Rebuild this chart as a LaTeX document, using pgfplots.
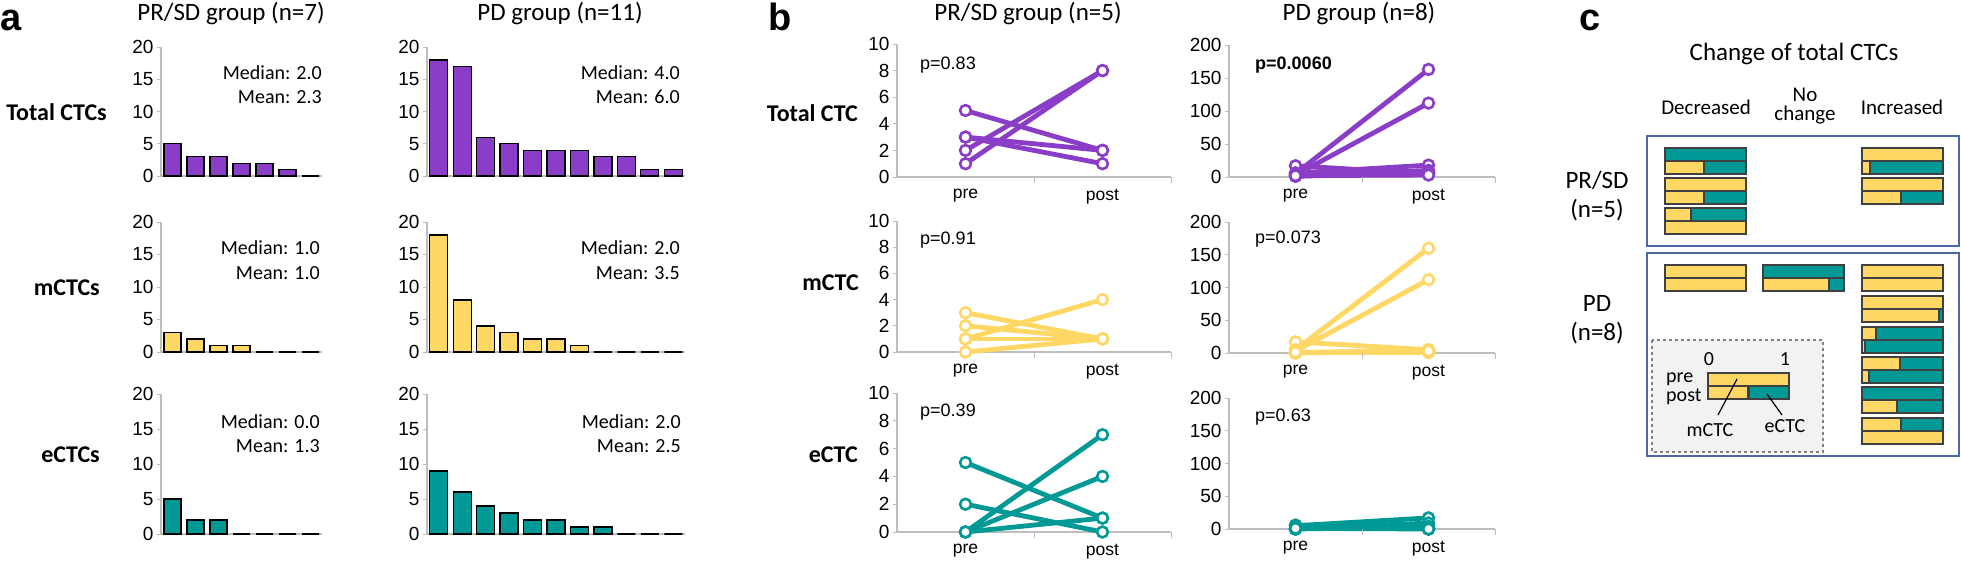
\documentclass[border=0pt]{standalone}
\usepackage{pgfplots}
\usepackage{pgfplotstable}
\pgfplotsset{compat=1.18}
\usepackage{fontspec}
\setmainfont{Carlito}
\newfontfamily\arial{Liberation Sans}
\definecolor{purp}{RGB}{138,62,200}
\definecolor{yell}{RGB}{255,215,100}
\definecolor{tealc}{RGB}{0,153,150}
\definecolor{axg}{RGB}{190,190,190}
\definecolor{bord}{RGB}{64,64,64}
\definecolor{boxblue}{RGB}{75,105,165}
\newcommand\ftitle{\fontsize{25}{30}\selectfont}
\newcommand\frow{\bfseries\fontsize{24}{28}\selectfont}
\newcommand\fmed{\fontsize{20}{24}\selectfont}
\newcommand\fhead{\fontsize{21}{22}\selectfont}
\newcommand\fleg{\fontsize{20}{22}\selectfont}
\newcommand\fp{\arial\fontsize{18}{20}\selectfont}
\newcommand\fletter{\arial\bfseries\fontsize{38}{40}\selectfont}
\pgfplotsset{
 common/.style={scale only axis, anchor=south west, clip=false,
   axis x line*=bottom, axis y line*=left,
   axis line style={draw=axg, line width=1.3pt},
   tick align=outside, major tick length=4pt,
   tick style={draw=axg, line width=1pt},
   tick label style={font=\arial\fontsize{19}{19}\selectfont, text=black},
   /pgf/number format/assume math mode=true,
   ymin=0},
 abar/.style={common, ybar, xtick=\empty, ymax=20, ytick={0,5,10,15,20}, xmin=0.5},
 bl/.style={common, xmin=0.5, xmax=2.5, xtick={1,2}, xticklabels={pre,post},
   xtick style={draw=none},
   xticklabel style={font=\arial\fontsize{17.5}{18}\selectfont, yshift=-5pt}},
 barst/.style={draw=black, line width=1.2pt},
}
\newcommand\seg[3]{\addplot[draw=#1, line width=4.8pt, line cap=round] coordinates {(1,#2)(2,#3)};}
\newcommand\xt{\draw[axg, line width=1pt] (axis cs:1.5,0) -- ++(0pt,-6pt); \draw[axg, line width=1pt] (axis cs:2.5,0) -- ++(0pt,-6pt);}
\pgfplotsset{mk/.style={only marks, mark=*, mark size=5.4pt, mark options={fill=white, draw=#1, line width=2.6pt}}}
\pgfplotstableread{
y off m e
154.5 1665 0 81
167.5 1665 39 42
184.5 1665 81 0
197.5 1665 39 42
214.5 1665 26 55
227.5 1665 81 0
154.51 1862 81 0
167.51 1862 8 73
184.51 1862 81 0
197.51 1862 39 42
271.5 1665 81 0
284.5 1665 81 0
271.52 1763 0 81
284.52 1763 66 15
271.51 1862 81 0
284.51 1862 81 0
302.5 1862 81 0
315.5 1862 77 4
333.5 1862 14 67
346.5 1862 3 78
363.5 1862 38 43
376.5 1862 7 74
393.5 1862 0 81
406.5 1862 35 46
424.5 1862 39 42
437.5 1862 81 0
379.5 1708 81 0
392.5 1708 40.5 40.5
}\ctab
\begin{document}
\begin{tikzpicture}
\useasboundingbox (0pt,0pt) rectangle (1961pt,-560pt);
\begin{scope}[x=1pt,y=-1pt]
% panel letters
\node[anchor=base west, inner sep=0, font=\fletter] at (0,30) {a};
\node[anchor=base west, inner sep=0, font=\fletter] at (768,30) {b};
\node[anchor=base west, inner sep=0, font=\fletter] at (1579,30) {c};
% panel a titles
\node[inner sep=0, font=\ftitle] at (231,14) {PR/SD group (n=7)};
\node[inner sep=0, font=\ftitle] at (560,14) {PD group (n=11)};
\node[anchor=east, inner sep=0, font=\frow] at (107,112) {Total CTCs};
\node[anchor=east, inner sep=0, font=\frow] at (100,288) {mCTCs};
\node[anchor=east, inner sep=0, font=\frow] at (100,455) {eCTCs};
% median/mean
\node[anchor=east, inner sep=0, font=\fmed] at (322,73) {Median: 2.0};
\node[anchor=east, inner sep=0, font=\fmed] at (322,97) {Mean: 2.3};
\node[anchor=east, inner sep=0, font=\fmed] at (680,73) {Median: 4.0};
\node[anchor=east, inner sep=0, font=\fmed] at (680,97) {Mean: 6.0};
\node[anchor=east, inner sep=0, font=\fmed] at (320,248) {Median: 1.0};
\node[anchor=east, inner sep=0, font=\fmed] at (320,273) {Mean: 1.0};
\node[anchor=east, inner sep=0, font=\fmed] at (680,248) {Median: 2.0};
\node[anchor=east, inner sep=0, font=\fmed] at (680,273) {Mean: 3.5};
\node[anchor=east, inner sep=0, font=\fmed] at (320,422) {Median: 0.0};
\node[anchor=east, inner sep=0, font=\fmed] at (320,446) {Mean: 1.3};
\node[anchor=east, inner sep=0, font=\fmed] at (681,422) {Median: 2.0};
\node[anchor=east, inner sep=0, font=\fmed] at (681,446) {Mean: 2.5};
% panel b titles
\node[inner sep=0, font=\ftitle] at (1028,14) {PR/SD group (n=5)};
\node[inner sep=0, font=\ftitle] at (1359,14) {PD group (n=8)};
\node[anchor=east, inner sep=0, font=\frow] at (858,113) {Total CTC};
\node[anchor=east, inner sep=0, font=\frow] at (859,283) {mCTC};
\node[anchor=east, inner sep=0, font=\frow] at (858,455) {eCTC};
\node[anchor=west, inner sep=0, font=\fp] at (920,65) {p=0.83};
\node[anchor=west, inner sep=0, font=\fp] at (920,240) {p=0.91};
\node[anchor=west, inner sep=0, font=\fp] at (920,412) {p=0.39};
\node[anchor=west, inner sep=0, font=\fp\bfseries] at (1255,65) {p=0.0060};
\node[anchor=west, inner sep=0, font=\fp] at (1255,239) {p=0.073};
\node[anchor=west, inner sep=0, font=\fp] at (1255,417) {p=0.63};
% panel c texts and boxes
\node[inner sep=0, font=\ftitle] at (1794,54) {Change of total CTCs};
\node[inner sep=0, font=\fhead] at (1706,107) {Decreased};
\node[inner sep=0, font=\fhead] at (1805,95) {No};
\node[inner sep=0, font=\fhead] at (1805,115) {change};
\node[inner sep=0, font=\fhead] at (1902,107) {Increased};
\node[inner sep=0, font=\ftitle] at (1597,180) {PR/SD};
\node[inner sep=0, font=\ftitle] at (1597,210) {(n=5)};
\node[inner sep=0, font=\ftitle] at (1597,303) {PD};
\node[inner sep=0, font=\ftitle] at (1597,333) {(n=8)};
\draw[boxblue, line width=1.5pt] (1647,136) rectangle (1959,246);
\draw[boxblue, line width=1.5pt] (1647,253) rectangle (1959,456);
\draw[draw=gray, fill=black!5, dashed, line width=1.3pt] (1652,340) rectangle (1823,452);
\node[inner sep=0, font=\fleg] at (1709,359) {0};
\node[inner sep=0, font=\fleg] at (1785,359) {1};
\node[anchor=west, inner sep=0, font=\fleg] at (1666,379) {pre};
\node[anchor=west, inner sep=0, font=\fleg] at (1666,397) {post};
\node[inner sep=0, font=\fleg] at (1710,430) {mCTC};
\node[inner sep=0, font=\fleg] at (1785,426) {eCTC};
\end{scope}

% ===== panel a =====
\begin{axis}[abar, at={(161pt,-176pt)}, width=161pt, height=129pt, xmax=7.5, bar width=17pt]
\addplot[barst, fill=purp] coordinates {(1,5)(2,3)(3,3)(4,2)(5,2)(6,1)(7,0)};
\end{axis}
\begin{axis}[abar, at={(427pt,-176pt)}, width=258pt, height=129pt, xmax=11.5, bar width=18pt]
\addplot[barst, fill=purp] coordinates {(1,18)(2,17)(3,6)(4,5)(5,4)(6,4)(7,4)(8,3)(9,3)(10,1)(11,1)};
\end{axis}
\begin{axis}[abar, at={(161pt,-352pt)}, width=161pt, height=130pt, xmax=7.5, bar width=17pt]
\addplot[barst, fill=yell] coordinates {(1,3)(2,2)(3,1)(4,1)(5,0)(6,0)(7,0)};
\end{axis}
\begin{axis}[abar, at={(427pt,-352pt)}, width=258pt, height=130pt, xmax=11.5, bar width=18pt]
\addplot[barst, fill=yell] coordinates {(1,18)(2,8)(3,4)(4,3)(5,2)(6,2)(7,1)(8,0)(9,0)(10,0)(11,0)};
\end{axis}
\begin{axis}[abar, at={(161pt,-534pt)}, width=161pt, height=140pt, xmax=7.5, bar width=17pt]
\addplot[barst, fill=tealc] coordinates {(1,5)(2,2)(3,2)(4,0)(5,0)(6,0)(7,0)};
\end{axis}
\begin{axis}[abar, at={(427pt,-534pt)}, width=258pt, height=140pt, xmax=11.5, bar width=18pt]
\addplot[barst, fill=tealc] coordinates {(1,9)(2,6)(3,4)(4,3)(5,2)(6,2)(7,1)(8,1)(9,0)(10,0)(11,0)};
\end{axis}

% ===== panel b =====
\begin{axis}[bl, at={(897pt,-177pt)}, width=274pt, height=133pt, ymax=10, ytick={0,2,4,6,8,10}]
\seg{purp}{5}{2}\seg{purp}{3}{2}\seg{purp}{3}{1}\seg{purp}{2}{8}\seg{purp}{1}{8}
\addplot[mk=purp] coordinates {(1,5)(1,3)(1,3)(1,2)(1,1)(2,2)(2,2)(2,1)(2,8)(2,8)};
\xt
\end{axis}
\begin{axis}[bl, at={(1229pt,-177pt)}, width=266pt, height=132pt, ymax=200, ytick={0,50,100,150,200}]
\seg{purp}{17}{5}\seg{purp}{6}{6}\seg{purp}{3}{112}\seg{purp}{5}{163}\seg{purp}{6}{18}\seg{purp}{2}{10}\seg{purp}{1}{7}\seg{purp}{2}{3}
\addplot[mk=purp] coordinates {(1,17)(1,6)(1,3)(1,5)(1,6)(1,2)(1,1)(1,2)(2,5)(2,6)(2,112)(2,163)(2,18)(2,10)(2,7)(2,3)};
\xt
\end{axis}
\begin{axis}[bl, at={(897pt,-352pt)}, width=274pt, height=131pt, ymax=10, ytick={0,2,4,6,8,10}]
\seg{yell}{0}{1}\seg{yell}{3}{1}\seg{yell}{1}{1}\seg{yell}{2}{1}\seg{yell}{1}{4}
\addplot[mk=yell] coordinates {(1,0)(1,3)(1,1)(1,2)(1,1)(2,1)(2,1)(2,1)(2,1)(2,4)};
\xt
\end{axis}
\begin{axis}[bl, at={(1229pt,-353pt)}, width=266pt, height=131pt, ymax=200, ytick={0,50,100,150,200}]
\seg{yell}{17}{5}\seg{yell}{0}{5}\seg{yell}{3}{112}\seg{yell}{5}{160}\seg{yell}{1}{1}\seg{yell}{1}{1}\seg{yell}{0}{3}\seg{yell}{1}{3}
\addplot[mk=yell] coordinates {(1,17)(1,0)(1,3)(1,5)(1,1)(1,1)(1,0)(1,1)(2,5)(2,5)(2,112)(2,160)(2,1)(2,1)(2,3)(2,3)};
\xt
\end{axis}
\begin{axis}[bl, at={(897pt,-532pt)}, width=274pt, height=139pt, ymax=10, ytick={0,2,4,6,8,10}]
\seg{tealc}{5}{1}\seg{tealc}{0}{1}\seg{tealc}{2}{0}\seg{tealc}{0}{7}\seg{tealc}{0}{4}
\addplot[mk=tealc] coordinates {(1,5)(1,0)(1,2)(1,0)(1,0)(2,1)(2,1)(2,0)(2,7)(2,4)};
\xt
\end{axis}
\begin{axis}[bl, at={(1229pt,-529pt)}, width=266pt, height=131pt, ymax=200, ytick={0,50,100,150,200}]
\seg{tealc}{0}{0}\seg{tealc}{6}{1}\seg{tealc}{0}{0}\seg{tealc}{0}{3}\seg{tealc}{5}{17}\seg{tealc}{1}{9}\seg{tealc}{1}{4}\seg{tealc}{1}{0}
\addplot[mk=tealc] coordinates {(1,0)(1,6)(1,0)(1,0)(1,5)(1,1)(1,1)(1,1)(2,0)(2,1)(2,0)(2,3)(2,17)(2,9)(2,4)(2,0)};
\xt
\end{axis}

% ===== panel c =====
\begin{axis}[scale only axis, anchor=south west, at={(1640pt,-460pt)}, width=320pt, height=330pt,
  xmin=1640, xmax=1960, ymin=130, ymax=460, y dir=reverse, hide axis, xbar stacked, bar width=13pt]
\addplot[draw=none, fill=none] table[x=off, y=y] {\ctab};
\addplot[fill=yell, draw=bord, line width=2.5pt] table[x=m, y=y] {\ctab};
\addplot[fill=tealc, draw=bord, line width=2.5pt] table[x=e, y=y] {\ctab};
\end{axis}
\begin{scope}[x=1pt,y=-1pt]
\draw[black, line width=1.2pt] (1737,379) -- (1718,415);
\draw[black, line width=1.2pt] (1767,394) -- (1782,415);
\end{scope}
\end{tikzpicture}
\end{document}
